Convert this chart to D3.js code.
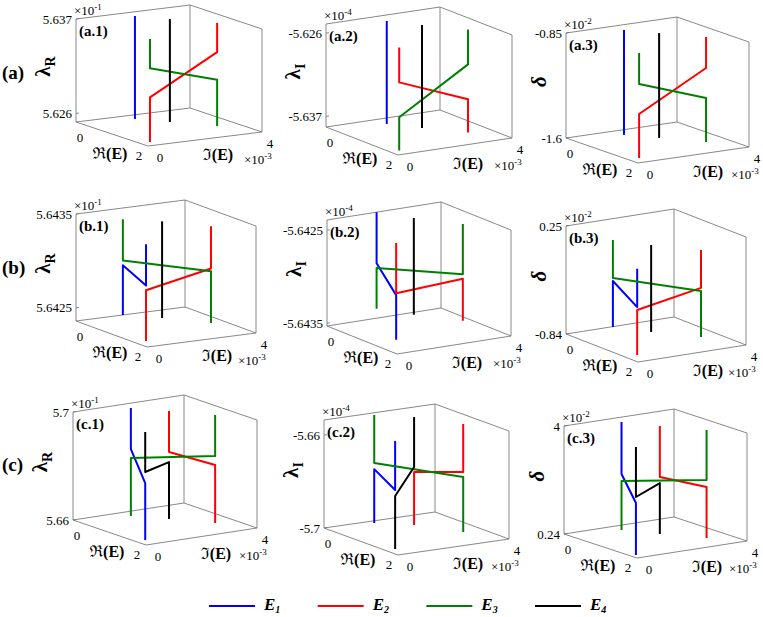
<!DOCTYPE html>
<html>
<head>
<meta charset="utf-8">
<script src="https://cdn.jsdelivr.net/npm/d3@7"></script>
<style>
  body { margin: 0; background: #fff; }
  svg text { font-family: "Liberation Serif", "Times New Roman", Times, "Nimbus Roman", "Noto Serif", "DejaVu Serif", FreeSerif, serif; }
</style>
</head>
<body>
<svg id="fig"></svg>
<script>
// ---- data ----
const series = ["1", "2", "3", "4"];              // E_1 .. E_4
const colors = ["#0000ff", "#ff0000", "#008000", "#000000"];
const rowLabels = ["(a)", "(b)", "(c)"];
const panelIds = ["a.1", "a.2", "a.3", "b.1", "b.2", "b.3", "c.1", "c.2", "c.3"];
const zSymbols = ["R", "I", "δ"];                 // λ_R, λ_I, δ by column
const zExps = ["-1", "-4", "-2", "-1", "-4", "-2", "-1", "-4", "-2"];
const zDomains = [
  [5.625, 5.637], [-5.6384, -5.6248], [-1.6, -0.85],
  [5.64236, 5.6435], [-5.64353, -5.64239], [-0.84, 0.25],
  [5.66, 5.70], [-5.70, -5.6535], [0.24, 4]
];
const zTicks = [
  [5.626, 5.637], [-5.637, -5.626], [-1.6, -0.85],
  [5.6425, 5.6435], [-5.6435, -5.6425], [-0.84, 0.25],
  [5.66, 5.7], [-5.7, -5.66], [0.24, 4]
];
const reTicks = [0, 2];
const imTicks = [0, 4];   // x 10^-3

// each curve: [Re(E), Im(E) x10^-3, z]
const a1 = [
  [[0.26, 1.74, 5.625], [0.26, 1.74, 5.637]],
  [[1.77, 0.36, 5.625], [1.77, 0.36, 5.6302], [1.30, 3.31, 5.6336], [1.30, 3.31, 5.637]],
  [[1.30, 3.31, 5.625], [1.30, 3.31, 5.6304], [1.77, 0.36, 5.6336], [1.77, 0.36, 5.637]],
  [[0.70, 2.41, 5.625], [0.70, 2.41, 5.637]]
];
const a2 = [
  [[0.31, 1.74, -5.6384], [0.31, 1.74, -5.6248]],
  [[1.78, 0.32, -5.6248], [1.78, 0.32, -5.6294], [1.38, 3.24, -5.6340], [1.38, 3.24, -5.6384]],
  [[1.38, 3.24, -5.6248], [1.38, 3.24, -5.6294], [1.78, 0.32, -5.6340], [1.78, 0.32, -5.6384]],
  [[0.79, 2.37, -5.6384], [0.79, 2.37, -5.6248]]
];
const a3 = [
  [[0.30, 1.70, -1.6], [0.30, 1.70, -0.85]],
  [[1.73, 0.39, -1.6], [1.73, 0.39, -1.285], [1.37, 3.27, -1.071], [1.37, 3.27, -0.85]],
  [[1.37, 3.27, -1.6], [1.37, 3.27, -1.285], [1.73, 0.39, -1.071], [1.73, 0.39, -0.85]],
  [[0.76, 2.37, -1.6], [0.76, 2.37, -0.85]]
];
const b1 = [
  [[0, 1.72, 5.64236], [0, 1.72, 5.64289], [1.65, 0.42, 5.64295], [1.65, 0.42, 5.64339]],
  [[1.65, 0.42, 5.64236], [1.65, 0.42, 5.64290], [1.10, 3.52, 5.64294], [1.10, 3.52, 5.64339]],
  [[1.10, 3.52, 5.64236], [1.10, 3.52, 5.64291], [0, 1.72, 5.64294], [0, 1.72, 5.64338]],
  [[0.46, 2.56, 5.64236], [0.46, 2.56, 5.64339]]
];
const b2 = [
  [[0, 1.74, -5.64239], [0, 1.74, -5.64294], [1.74, 0.29, -5.64295], [1.74, 0.29, -5.64343]],
  [[1.74, 0.29, -5.64239], [1.74, 0.29, -5.64293], [1.30, 3.17, -5.64298], [1.30, 3.17, -5.64343]],
  [[1.30, 3.17, -5.64239], [1.30, 3.17, -5.64293], [0, 1.74, -5.64299], [0, 1.74, -5.64343]],
  [[0.60, 2.31, -5.64343], [0.60, 2.31, -5.64239]]
];
const b3 = [
  [[0.02, 1.71, -0.84], [0.02, 1.71, -0.376], [1.64, 0.45, -0.356], [1.64, 0.45, 0.032]],
  [[1.64, 0.45, -0.84], [1.64, 0.45, -0.385], [1.23, 3.36, -0.345], [1.23, 3.36, 0.038]],
  [[1.23, 3.36, -0.84], [1.23, 3.36, -0.376], [0.02, 1.71, -0.345], [0.02, 1.71, 0.038]],
  [[0.58, 2.38, -0.84], [0.58, 2.38, 0.038]]
];
const c1 = [
  [[0.27, 1.73, 5.70], [0.27, 1.73, 5.6848], [1.72, 0.34, 5.6811], [1.72, 0.34, 5.66]],
  [[0.76, 2.46, 5.70], [0.76, 2.46, 5.6848], [1.37, 3.32, 5.6815], [1.37, 3.32, 5.66]],
  [[0.27, 1.73, 5.66], [0.27, 1.73, 5.6815], [1.37, 3.32, 5.6848], [1.37, 3.32, 5.70]],
  [[1.72, 0.34, 5.70], [1.72, 0.34, 5.6852], [0.76, 2.46, 5.6811], [0.76, 2.46, 5.66]]
];
const c2 = [
  [[0.12, 1.65, -5.70], [0.12, 1.65, -5.6768], [1.66, 0.35, -5.6746], [1.66, 0.35, -5.6535]],
  [[0.53, 2.54, -5.70], [0.53, 2.54, -5.6772], [1.28, 3.31, -5.6742], [1.28, 3.31, -5.6535]],
  [[0.12, 1.65, -5.6535], [0.12, 1.65, -5.6742], [1.28, 3.31, -5.6763], [1.28, 3.31, -5.70]],
  [[1.66, 0.35, -5.70], [1.66, 0.35, -5.6772], [0.53, 2.54, -5.6750], [0.53, 2.54, -5.6535]]
];
const c3 = [
  [[0.28, 1.72, 4.0], [0.28, 1.72, 2.191], [1.82, 0.20, 2.049], [1.82, 0.20, 0.24]],
  [[0.84, 2.37, 4.0], [0.84, 2.37, 2.225], [1.48, 3.22, 2.015], [1.48, 3.22, 0.24]],
  [[0.28, 1.72, 0.24], [0.28, 1.72, 1.947], [1.48, 3.22, 2.259], [1.48, 3.22, 4.0]],
  [[1.82, 0.20, 4.0], [1.82, 0.20, 2.259], [0.84, 2.37, 2.015], [0.84, 2.37, 0.24]]
];
const curves = [a1, a2, a3, b1, b2, b3, c1, c2, c3];

// ---- layout: projected box of each panel (origin = Re 0, Im 0, z min) ----
const layout = [
  {O: [76, 122], vRe: [72, 24], vIm: [114, -14], h: 103},
  {O: [326, 127], vRe: [72, 28], vIm: [114, -17], h: 103},
  {O: [566, 138], vRe: [72, 25], vIm: [111, -16], h: 105},
  {O: [76, 321], vRe: [71, 26], vIm: [109, -14], h: 107},
  {O: [327, 326], vRe: [70, 28], vIm: [114, -18], h: 106},
  {O: [566, 334], vRe: [72, 28], vIm: [108, -17], h: 108},
  {O: [73, 520], vRe: [73, 25], vIm: [111, -17], h: 108},
  {O: [324, 528], vRe: [74, 27], vIm: [111, -16], h: 108},
  {O: [564, 534], vRe: [73, 24], vIm: [110, -17], h: 108}
];
const rowLabelY = [79, 274, 471];

const W = 763, H = 617;
const svg = d3.select("#fig")
    .attr("width", W)
    .attr("height", H);
svg.append("rect").attr("width", W).attr("height", H).attr("fill", "#fff");

const line = d3.line();

layout.forEach(function (L, k) {
  const g = svg.append("g");
  const [z0, z1] = zDomains[k];
  const xRe = d3.scaleLinear().domain([0, 2]).range([0, 1]);
  const xIm = d3.scaleLinear().domain([0, 4]).range([0, 1]);
  const xZ = d3.scaleLinear().domain([z0, z1]).range([0, L.h]);
  const proj = p => [
    L.O[0] + xRe(p[0]) * L.vRe[0] + xIm(p[1]) * L.vIm[0],
    L.O[1] + xRe(p[0]) * L.vRe[1] + xIm(p[1]) * L.vIm[1] - xZ(p[2])
  ];

  // back planes of the box
  const box = [
    [[0, 0, z0], [2, 0, z0], [2, 4, z0], [0, 4, z0], [0, 0, z0]],
    [[0, 0, z0], [0, 0, z1], [0, 4, z1], [0, 4, z0]],
    [[0, 4, z1], [2, 4, z1], [2, 4, z0]]
  ];
  g.selectAll("path.box")
    .data(box)
    .join("path")
    .attr("class", "box")
    .attr("d", d => line(d.map(proj)))
    .attr("fill", "none")
    .attr("stroke", "#7a7a7a")
    .attr("stroke-width", 0.9);

  // curves
  g.selectAll("path.curve")
    .data(curves[k])
    .join("path")
    .attr("class", "curve")
    .attr("d", d => line(d.map(proj)))
    .attr("fill", "none")
    .attr("stroke", (d, i) => colors[i])
    .attr("stroke-width", 2)
    .attr("stroke-linejoin", "round");

  const topLeft = proj([0, 0, z1]);
  const front = proj([2, 0, z0]);
  const right = proj([2, 4, z0]);

  // z ticks
  g.selectAll("line.zt")
    .data(zTicks[k])
    .join("line")
    .attr("x1", L.O[0]).attr("x2", L.O[0] + 3)
    .attr("y1", d => proj([0, 0, d])[1]).attr("y2", d => proj([0, 0, d])[1] - 0.4)
    .attr("stroke", "#7a7a7a").attr("stroke-width", 0.9);
  g.selectAll("text.zt")
    .data(zTicks[k])
    .join("text")
    .attr("x", L.O[0] - 4)
    .attr("y", d => proj([0, 0, d])[1])
    .attr("dy", "0.35em")
    .attr("text-anchor", "end")
    .style("font-size", "13px")
    .text(d => String(d));

  // exponent on z
  const ze = g.append("text")
    .attr("x", L.O[0] - 2).attr("y", topLeft[1] - 4)
    .style("font-size", "13px");
  ze.append("tspan").text("×10");
  ze.append("tspan").attr("dy", -5).style("font-size", "9px").text(zExps[k]);

  // z label
  const col = k % 3;
  const zl = g.append("text")
    .attr("transform", "translate(" + (L.O[0] - 26) + "," + ((L.O[1] + topLeft[1]) / 2 - 4) + ") rotate(-90)")
    .attr("text-anchor", "middle")
    .style("font-weight", "bold");
  if (col < 2) {
    zl.append("tspan").style("font-size", "21px").text("λ");
    zl.append("tspan").attr("dy", 5).style("font-size", "14px").text(zSymbols[col]);
  } else {
    zl.attr("dy", "0.35em").append("tspan").style("font-size", "21px")
      .style("font-style", "italic").text(zSymbols[col]);
  }

  // Re(E) ticks and label
  const reOff = [[4, 15], [-9, 9]];
  g.selectAll("text.rt")
    .data(reTicks)
    .join("text")
    .attr("x", (d, i) => proj([d, 0, z0])[0] + reOff[i][0])
    .attr("y", (d, i) => proj([d, 0, z0])[1] + reOff[i][1])
    .attr("dy", "0.35em")
    .attr("text-anchor", "middle")
    .style("font-size", "13px")
    .text(d => d);
  g.append("text")
    .attr("x", L.O[0] + 34).attr("y", L.O[1] + 37)
    .attr("text-anchor", "middle")
    .style("font-size", "16px").style("font-weight", "bold")
    .text("ℜ(E)");

  // Im(E) ticks and label
  const imOff = [[12, 11], [8, 11]];
  g.selectAll("text.it")
    .data(imTicks)
    .join("text")
    .attr("x", (d, i) => proj([2, d, z0])[0] + imOff[i][0])
    .attr("y", (d, i) => proj([2, d, z0])[1] + imOff[i][1])
    .attr("dy", "0.35em")
    .attr("text-anchor", "middle")
    .style("font-size", "13px")
    .text(d => d);
  g.append("text")
    .attr("x", front[0] + 70).attr("y", front[1] + 14)
    .attr("text-anchor", "middle")
    .style("font-size", "16px").style("font-weight", "bold")
    .text("ℑ(E)");
  const ie = g.append("text")
    .attr("x", right[0] - 18).attr("y", right[1] + 32)
    .style("font-size", "13px");
  ie.append("tspan").text("×10");
  ie.append("tspan").attr("dy", -5).style("font-size", "9px").text("-3");

  // panel label
  g.append("text")
    .attr("x", L.O[0] + 3).attr("y", topLeft[1] + 17)
    .style("font-size", "15px").style("font-weight", "bold")
    .text("(" + panelIds[k] + ")");
});

// row labels
svg.selectAll("text.row")
  .data(rowLabels)
  .join("text")
  .attr("class", "row")
  .attr("x", 2)
  .attr("y", (d, i) => rowLabelY[i])
  .style("font-size", "19px").style("font-weight", "bold")
  .text(d => d);

// legend
const lx = d3.scaleLinear().domain([0, 3]).range([209, 535]);
const leg = svg.selectAll("g.leg")
  .data(series)
  .join("g")
  .attr("class", "leg")
  .attr("transform", (d, i) => "translate(" + lx(i) + ",606)");
leg.append("line")
  .attr("x1", 0).attr("x2", 46)
  .attr("stroke", (d, i) => colors[i])
  .attr("stroke-width", 2);
const lt = leg.append("text")
  .attr("x", 55).attr("y", 4)
  .style("font-size", "17px").style("font-weight", "bold").style("font-style", "italic");
lt.append("tspan").text("E");
lt.append("tspan").attr("dy", 3).style("font-size", "10px").text(d => d);
</script>
</body>
</html>
